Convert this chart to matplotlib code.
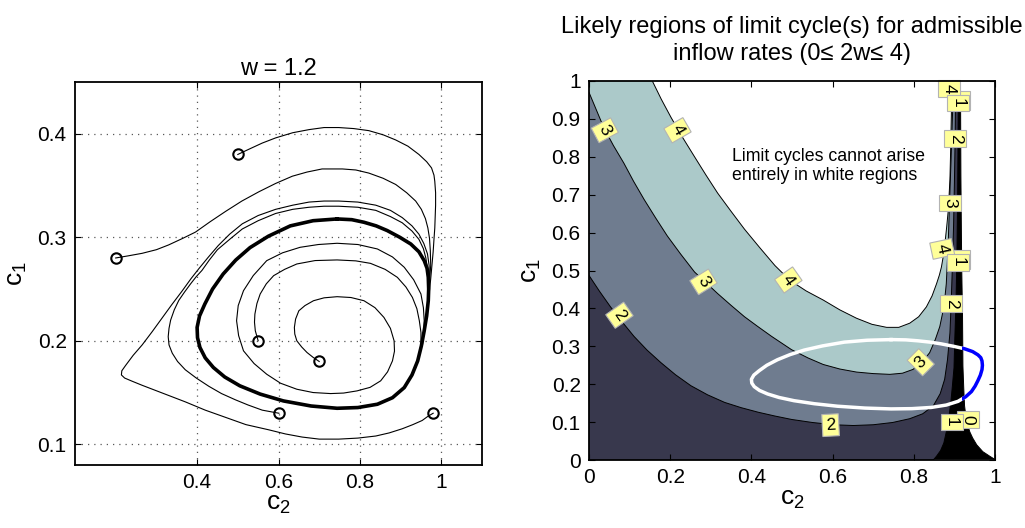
import numpy as np
import matplotlib
matplotlib.use("Agg")
import matplotlib.pyplot as plt
from matplotlib.patches import Rectangle

plt.rcParams['font.family'] = ['Liberation Sans', 'DejaVu Sans']
plt.rcParams['mathtext.fontset'] = 'custom'
plt.rcParams['mathtext.rm'] = 'Liberation Sans'

# ---------------- Left panel data ----------------
cycle_c2 = [0.744, 0.780, 0.810, 0.840, 0.867, 0.898, 0.925, 0.945, 0.958, 0.965, 0.968, 0.969,
            0.968, 0.964, 0.958, 0.951, 0.942, 0.928, 0.909, 0.880, 0.843, 0.795, 0.744, 0.680,
            0.612, 0.555, 0.505, 0.468, 0.440, 0.420, 0.407, 0.401, 0.400, 0.406, 0.419, 0.438,
            0.464, 0.495, 0.530, 0.575, 0.629, 0.685, 0.744]
cycle_c1 = [0.3177, 0.3170, 0.3145, 0.3110, 0.3065, 0.3000, 0.2935, 0.2860, 0.2774, 0.2700, 0.2613,
            0.2500, 0.2387, 0.2240, 0.2097, 0.1950, 0.1806, 0.1670, 0.1548, 0.1450, 0.1387, 0.1355,
            0.1348, 0.1370, 0.1419, 0.1485, 0.1565, 0.1650, 0.1742, 0.1835, 0.1935, 0.2030, 0.2129,
            0.2240, 0.2355, 0.2500, 0.2645, 0.2780, 0.2900, 0.3010, 0.3110, 0.3160, 0.3177]

traj1_c2 = [0.500, 0.527, 0.560, 0.593, 0.635, 0.675, 0.712, 0.748, 0.785, 0.822, 0.857, 0.888, 0.918,
            0.945, 0.964, 0.976, 0.982, 0.984, 0.986, 0.986, 0.985, 0.984, 0.982, 0.980, 0.977, 0.974, 0.970]
traj1_c1 = [0.380, 0.385, 0.391, 0.396, 0.401, 0.404, 0.406, 0.406, 0.405, 0.403, 0.399, 0.394, 0.388,
            0.380, 0.373, 0.367, 0.360, 0.354, 0.343, 0.331, 0.320, 0.309, 0.298, 0.286, 0.273, 0.260, 0.245]

traj2_c2 = [0.200, 0.230, 0.265, 0.300, 0.330, 0.365, 0.396, 0.432, 0.470, 0.510, 0.552, 0.593, 0.634,
            0.670, 0.707, 0.757, 0.790, 0.822, 0.857, 0.888, 0.915, 0.937, 0.951, 0.961, 0.967, 0.971,
            0.973, 0.974, 0.972, 0.970]
traj2_c1 = [0.280, 0.282, 0.2845, 0.288, 0.2926, 0.299, 0.305, 0.315, 0.325, 0.335, 0.344, 0.352, 0.359,
            0.363, 0.366, 0.366, 0.365, 0.362, 0.357, 0.351, 0.343, 0.335, 0.327, 0.318, 0.309, 0.299,
            0.287, 0.273, 0.262, 0.250]

traj3_c2 = [0.550, 0.543, 0.541, 0.542, 0.547, 0.555, 0.570, 0.588, 0.615, 0.645, 0.690, 0.744, 0.790,
            0.826, 0.862, 0.892, 0.913, 0.929, 0.940, 0.946, 0.950, 0.950, 0.945, 0.937]
traj3_c1 = [0.200, 0.2097, 0.218, 0.2258, 0.236, 0.2452, 0.255, 0.2629, 0.269, 0.2742, 0.2775, 0.2781,
            0.2772, 0.2748, 0.269, 0.2613, 0.252, 0.2419, 0.231, 0.2194, 0.208, 0.1968, 0.185, 0.1742]

traj4_c2 = [0.700, 0.685, 0.670, 0.657, 0.645, 0.640, 0.639, 0.642, 0.650, 0.665, 0.686, 0.712, 0.744,
            0.778, 0.810, 0.837, 0.859, 0.875, 0.884, 0.885, 0.880, 0.868, 0.851, 0.825, 0.793, 0.760,
            0.728, 0.685, 0.645, 0.605, 0.571, 0.540, 0.514, 0.502, 0.497, 0.501, 0.514, 0.538, 0.571,
            0.610, 0.653, 0.698, 0.744, 0.795, 0.843, 0.880, 0.909, 0.932, 0.950, 0.956, 0.958, 0.957, 0.954]
traj4_c1 = [0.180, 0.184, 0.1887, 0.194, 0.200, 0.2065, 0.2129, 0.221, 0.229, 0.234, 0.2387, 0.2415,
            0.2426, 0.2418, 0.2387, 0.232, 0.2226, 0.212, 0.200, 0.190, 0.1806, 0.170, 0.1613, 0.155,
            0.1516, 0.1495, 0.149, 0.150, 0.1532, 0.159, 0.1677, 0.178, 0.1903, 0.205, 0.2194, 0.234,
            0.2484, 0.263, 0.2774, 0.285, 0.2903, 0.293, 0.2942, 0.2930, 0.2887, 0.281, 0.271, 0.259,
            0.2452, 0.232, 0.2194, 0.208, 0.1968]

traj5_c2 = [0.601, 0.560, 0.525, 0.494, 0.460, 0.429, 0.398, 0.371, 0.352, 0.339, 0.331, 0.329, 0.331,
            0.335, 0.344, 0.355, 0.369, 0.384, 0.398, 0.412, 0.430, 0.450, 0.480, 0.511, 0.550, 0.593,
            0.635, 0.675, 0.712, 0.748, 0.795, 0.839, 0.875, 0.904, 0.928, 0.945, 0.956, 0.962, 0.966,
            0.968, 0.968]
traj5_c1 = [0.130, 0.133, 0.138, 0.143, 0.149, 0.156, 0.164, 0.172, 0.180, 0.188, 0.196, 0.204, 0.212,
            0.220, 0.230, 0.239, 0.247, 0.255, 0.262, 0.268, 0.278, 0.288, 0.298, 0.308, 0.316, 0.323,
            0.327, 0.329, 0.330, 0.330, 0.329, 0.326, 0.320, 0.314, 0.306, 0.298, 0.289, 0.280, 0.270,
            0.260, 0.245]

traj6_c2 = [0.980, 0.967, 0.953, 0.930, 0.904, 0.872, 0.839, 0.795, 0.748, 0.700, 0.658, 0.617, 0.576,
            0.520, 0.470, 0.420, 0.371, 0.318, 0.265, 0.240, 0.222, 0.214, 0.215, 0.224, 0.243, 0.265,
            0.290, 0.314, 0.338, 0.363, 0.385, 0.405, 0.428, 0.452, 0.480, 0.511, 0.550, 0.593, 0.635,
            0.675, 0.712, 0.748, 0.795, 0.839, 0.875, 0.904, 0.928, 0.945, 0.957, 0.966, 0.970, 0.971, 0.970]
traj6_c1 = [0.130, 0.127, 0.123, 0.119, 0.115, 0.111, 0.108, 0.106, 0.105, 0.105, 0.107, 0.110, 0.114,
            0.119, 0.126, 0.133, 0.141, 0.149, 0.157, 0.161, 0.164, 0.167, 0.171, 0.176, 0.186, 0.196,
            0.209, 0.222, 0.235, 0.248, 0.260, 0.270, 0.281, 0.292, 0.303, 0.313, 0.321, 0.327, 0.331,
            0.334, 0.335, 0.335, 0.334, 0.331, 0.326, 0.319, 0.311, 0.303, 0.294, 0.284, 0.273, 0.262, 0.245]

start_c2 = [0.50, 0.20, 0.55, 0.70, 0.60, 0.98]
start_c1 = [0.38, 0.28, 0.20, 0.18, 0.13, 0.13]

left_xticks = [0.4, 0.6, 0.8, 1.0]
left_xticklabels = ['0.4', '0.6', '0.8', '1']
left_yticks = [0.1, 0.2, 0.3, 0.4]
left_yticklabels = ['0.1', '0.2', '0.3', '0.4']

# ---------------- Right panel data (contour boundaries) ----------------
lvl4_c2 = [0.156, 0.178, 0.202, 0.230, 0.260, 0.288, 0.317, 0.350, 0.383, 0.420, 0.458, 0.495, 0.535,
           0.577, 0.618, 0.659, 0.697, 0.733, 0.763, 0.790, 0.812, 0.831, 0.845, 0.856, 0.863, 0.868,
           0.873, 0.877, 0.881, 0.885, 0.889, 0.891, 0.893, 0.894]
lvl4_c1 = [1.0, 0.952, 0.904, 0.852, 0.800, 0.752, 0.704, 0.656, 0.609, 0.561, 0.513, 0.474, 0.446,
           0.422, 0.396, 0.374, 0.358, 0.350, 0.350, 0.361, 0.378, 0.404, 0.433, 0.465, 0.488, 0.509,
           0.540, 0.575, 0.615, 0.660, 0.740, 0.830, 0.940, 1.0]

lvl3_c2 = [0.0, 0.018, 0.036, 0.060, 0.086, 0.110, 0.136, 0.164, 0.193, 0.226, 0.260, 0.290, 0.317,
           0.350, 0.383, 0.416, 0.450, 0.499, 0.540, 0.577, 0.618, 0.659, 0.700, 0.741, 0.772, 0.798,
           0.820, 0.839, 0.853, 0.864, 0.871, 0.876, 0.880, 0.882, 0.885, 0.888, 0.892, 0.895, 0.898]
lvl3_c1 = [0.970, 0.924, 0.878, 0.830, 0.783, 0.735, 0.687, 0.639, 0.591, 0.543, 0.496, 0.466, 0.439,
           0.408, 0.378, 0.352, 0.326, 0.291, 0.269, 0.252, 0.240, 0.232, 0.228, 0.226, 0.229, 0.239,
           0.258, 0.283, 0.318, 0.352, 0.388, 0.422, 0.465, 0.509, 0.580, 0.680, 0.800, 0.900, 1.0]

lvl2_c2 = [0.0, 0.026, 0.053, 0.082, 0.111, 0.143, 0.177, 0.213, 0.251, 0.292, 0.334, 0.375, 0.417,
           0.458, 0.499, 0.550, 0.602, 0.651, 0.700, 0.748, 0.790, 0.822, 0.848, 0.865, 0.876, 0.883,
           0.889, 0.892, 0.895, 0.898, 0.900, 0.902, 0.903]
lvl2_c1 = [0.487, 0.445, 0.404, 0.364, 0.326, 0.290, 0.257, 0.225, 0.196, 0.172, 0.152, 0.138, 0.126,
           0.116, 0.107, 0.099, 0.093, 0.091, 0.093, 0.099, 0.109, 0.122, 0.143, 0.175, 0.213, 0.265,
           0.335, 0.413, 0.509, 0.620, 0.730, 0.860, 1.0]

lvl1_c2 = [0.848, 0.856, 0.866, 0.874, 0.880, 0.886, 0.891, 0.895, 0.899, 0.901, 0.904, 0.906, 0.908,
           0.909, 0.910]
lvl1_c1 = [0.0, 0.010, 0.025, 0.045, 0.074, 0.110, 0.150, 0.195, 0.243, 0.320, 0.420, 0.526, 0.700,
           0.850, 1.0]

tail_c2 = [0.999, 0.987, 0.970, 0.955, 0.945, 0.938, 0.932, 0.928, 0.925, 0.923, 0.921, 0.920, 0.918,
           0.916, 0.915]
tail_c1 = [0.002, 0.010, 0.022, 0.040, 0.058, 0.074, 0.095, 0.118, 0.143, 0.190, 0.248, 0.380, 0.509,
           0.750, 1.0]

# contour labels (clabel style)
label_text = ['3', '4', '3', '4', '2', '2', '3', '2', '4', '1', '3', '2', '4', '1', '0', '1']
label_c2 = [0.039, 0.218, 0.282, 0.491, 0.075, 0.595, 0.817, 0.892, 0.870, 0.909, 0.889, 0.902,
            0.886, 0.909, 0.934, 0.893]
label_c1 = [0.870, 0.870, 0.470, 0.475, 0.382, 0.092, 0.258, 0.413, 0.557, 0.522, 0.678, 0.848,
            0.980, 0.942, 0.107, 0.100]
label_rot = [-62, -60, -58, -55, -55, 3, 45, -90, -78, -90, -90, -90, -90, -90, -90, -90]
# second (shadow) boxes behind the doubled "1" labels
shadow_c2 = [0.915, 0.915]
shadow_c1 = [0.528, 0.948]

right_xticks = [0, 0.2, 0.4, 0.6, 0.8, 1.0]
right_xticklabels = ['0', '0.2', '0.4', '0.6', '0.8', '1']
right_yticks = [0, 0.1, 0.2, 0.3, 0.4, 0.5, 0.6, 0.7, 0.8, 0.9, 1.0]
right_yticklabels = ['0', '0.1', '0.2', '0.3', '0.4', '0.5', '0.6', '0.7', '0.8', '0.9', '1']

c_black = '#000000'
c_dark = '#38384d'
c_med = '#6f7c8f'
c_light = '#abc9c9'
c_box = '#ffff99'
c_box_edge = '#b3b3b3'

# ---------------- Figure ----------------
fig = plt.figure(figsize=(10.25, 5.28), dpi=100)
axL = fig.add_axes([75 / 1025, (528 - 465) / 528, 407 / 1025, 383 / 528])
axR = fig.add_axes([589 / 1025, (528 - 460) / 528, 406 / 1025, 379 / 528])

# Left panel
for c2, c1 in [(traj1_c2, traj1_c1), (traj2_c2, traj2_c1), (traj3_c2, traj3_c1),
               (traj4_c2, traj4_c1), (traj5_c2, traj5_c1), (traj6_c2, traj6_c1)]:
    axL.plot(c2, c1, color='k', lw=0.8, zorder=3)
axL.plot(cycle_c2, cycle_c1, color='k', lw=2.6, solid_joinstyle='round', zorder=4)
axL.plot(start_c2, start_c1, 'o', mfc='none', mec='k', ms=7.5, mew=1.5, zorder=5)
axL.set_xlim(0.1, 1.1)
axL.set_ylim(0.08, 0.45)
axL.set_xticks(left_xticks)
axL.set_xticklabels(left_xticklabels)
axL.set_yticks(left_yticks)
axL.set_yticklabels(left_yticklabels)
axL.grid(True, ls=(0, (1, 4)), color='0.35', lw=0.9)
axL.tick_params(direction='in', top=True, right=True, length=4, width=0.8, labelsize=15, pad=6)
axL.set_title('w = 1.2', fontsize=17, pad=5)
axL.set_xlabel(r'$\mathregular{c_2}$', fontsize=19, labelpad=0)
axL.set_ylabel(r'$\mathregular{c_1}$', fontsize=19, labelpad=6)
for s in axL.spines.values():
    s.set_linewidth(1.3)

# Right panel: filled regions
axR.fill(list(tail_c2) + [0, 0], list(tail_c1) + [1, 0], color=c_black, lw=0, zorder=1)
axR.fill(list(lvl1_c2) + [0, 0], list(lvl1_c1) + [1, 0], color=c_dark, lw=0, zorder=1)
axR.fill(list(lvl2_c2) + [0], list(lvl2_c1) + [1], color=c_med, lw=0, zorder=1)
axR.fill(list(lvl3_c2) + [0], list(lvl3_c1) + [1], color=c_light, lw=0, zorder=1)
axR.fill(lvl4_c2, lvl4_c1, color='white', lw=0, zorder=1)
for c2, c1 in [(lvl1_c2, lvl1_c1), (lvl2_c2, lvl2_c1), (lvl3_c2, lvl3_c1), (lvl4_c2, lvl4_c1),
               (tail_c2, tail_c1)]:
    axR.plot(c2, c1, color='k', lw=0.7, zorder=2)

axR.plot(cycle_c2, cycle_c1, color='white', lw=2.5, solid_joinstyle='round', zorder=3)
blue, = axR.plot(cycle_c2, cycle_c1, color='#0000ff', lw=2.5, solid_joinstyle='round', zorder=3)
clip = Rectangle((0.919, 0.0), 0.3, 1.0, transform=axR.transData)
blue.set_clip_path(clip)

# shadow boxes (plain rectangles) for doubled labels
bw, bh = 19 / 406, 19 / 379
for x, y in zip(shadow_c2, shadow_c1):
    axR.add_patch(Rectangle((x - bw / 2, y - bh / 2), bw, bh, fc=c_box, ec=c_box_edge, lw=0.8,
                            zorder=5, clip_on=False))

for t, x, y, r in zip(label_text, label_c2, label_c1, label_rot):
    axR.text(x, y, t, rotation=r, rotation_mode='anchor', ha='center', va='center', fontsize=12.5,
             bbox=dict(boxstyle='square,pad=0.2', fc=c_box, ec=c_box_edge, lw=0.8),
             zorder=6, clip_on=False)

axR.text(0.351, 0.822, 'Limit cycles cannot arise\nentirely in white regions', fontsize=12.8,
         ha='left', va='top', zorder=6, linespacing=1.1)

axR.set_xlim(0, 1)
axR.set_ylim(0, 1)
axR.set_xticks(right_xticks)
axR.set_xticklabels(right_xticklabels)
axR.set_yticks(right_yticks)
axR.set_yticklabels(right_yticklabels)
axR.tick_params(direction='in', top=True, right=True, length=4, width=0.8, labelsize=15, pad=6)
axR.set_title('Likely regions of limit cycle(s) for admissible\ninflow rates (0\u2264 2w\u2264 4)',
              fontsize=17, pad=15, linespacing=1.3)
axR.set_xlabel(r'$\mathregular{c_2}$', fontsize=19, labelpad=0)
axR.set_ylabel(r'$\mathregular{c_1}$', fontsize=19, labelpad=6)
for s in axR.spines.values():
    s.set_linewidth(1.3)
    s.set_zorder(7)

fig.savefig('out.png', dpi=100)
